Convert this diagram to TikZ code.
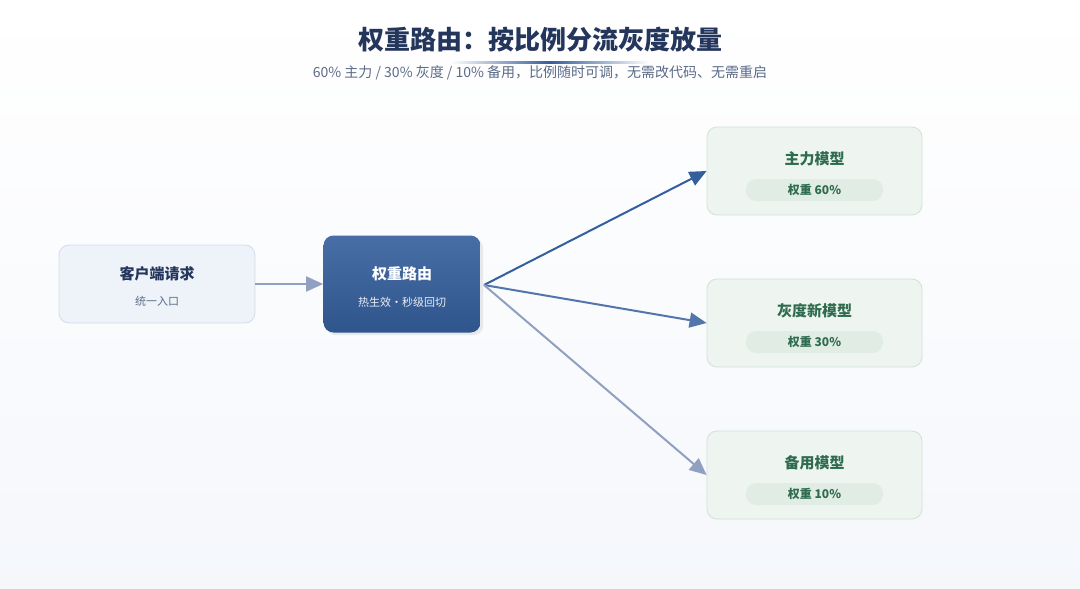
\documentclass[tikz,border=0pt]{standalone}
\usepackage{fontspec}
\setmainfont{Noto Sans CJK SC}
\usetikzlibrary{positioning, arrows.meta, calc, shadows}

\definecolor{titleblue}{HTML}{24365C}
\definecolor{subgray}{HTML}{5A6B88}
\definecolor{routerblue}{HTML}{345E9C}
\definecolor{clientfill}{HTML}{EEF2F9}
\definecolor{clientdraw}{HTML}{D3DDED}
\definecolor{modelfill}{HTML}{EEF5F0}
\definecolor{modeldraw}{HTML}{CFE3D6}
\definecolor{modeltext}{HTML}{2F6B4E}
\definecolor{pillfill}{HTML}{E1EDE4}
\definecolor{edgegray}{HTML}{8FA0C0}

\tikzset{
    box/.style={rounded corners=10pt, minimum width=196pt, minimum height=78pt, line width=0.8pt},
    model/.style={box, fill=modelfill, draw=modeldraw, minimum width=215pt, minimum height=88pt},
    pill/.style={rounded corners=10pt, fill=pillfill, minimum width=137pt, minimum height=22pt,
        text=modeltext, font=\fontsize{12}{14}\selectfont\bfseries},
    flow/.style={line width=2pt, -{Triangle[length=17pt,width=15pt]}},
}

\begin{document}
\begin{tikzpicture}[x=1pt, y=-1pt]
    \fill[top color=white, bottom color=clientfill!60] (0,0) rectangle (1080,589);
    \useasboundingbox (0,0) rectangle (1080,589);

    % title
    \node(title) at (540,40) {\fontsize{26}{30}\selectfont\bfseries\color{titleblue}权重路由：按比例分流灰度放量};
    \shade[left color=white, right color=white, middle color=routerblue] (450,61) rectangle (650,63.5);
    \node(subtitle) at (540,73) {\fontsize{14}{16}\selectfont\color{subgray}60\% 主力 / 30\% 灰度 / 10\% 备用，比例随时可调，无需改代码、无需重启};

    % nodes
    \node[box, fill=clientfill, draw=clientdraw](client) at (157,284) {};
    \node[text=titleblue, font=\fontsize{15}{18}\selectfont\bfseries] at (157,274) {客户端请求};
    \node[text=subgray, font=\fontsize{11}{13}\selectfont] at (157,301) {统一入口};

    \node[box, minimum width=157pt, minimum height=97pt, top color=routerblue!90!white, bottom color=routerblue!90!black, draw=none, drop shadow={opacity=0.15}](router) at (402,284) {};
    \node[text=white, font=\fontsize{15}{18}\selectfont\bfseries] at (402,274) {权重路由};
    \node[text=white!90!routerblue, font=\fontsize{11}{13}\selectfont] at (402,302) {热生效·秒级回切};

    \foreach \y/\name/\label/\w in {171/main/主力模型/60, 323/gray/灰度新模型/30, 475/spare/备用模型/10}{
        \node[model](\name) at (814.5,\y) {};
        \node[text=modeltext, font=\fontsize{15}{18}\selectfont\bfseries] at (814.5,\y-12) {\label};
        \node[pill] at (814.5,\y+19) {权重 \w\%};
    }

    % connectors
    \coordinate(fork) at (484,285);
    \draw[flow, edgegray] (client.east) -- (router.west);
    \draw[flow, routerblue] (fork) -- (main.west);
    \draw[flow, routerblue!85!white] (fork) -- (gray.west);
    \draw[flow, edgegray] (fork) -- (spare.west);
\end{tikzpicture}
\end{document}
